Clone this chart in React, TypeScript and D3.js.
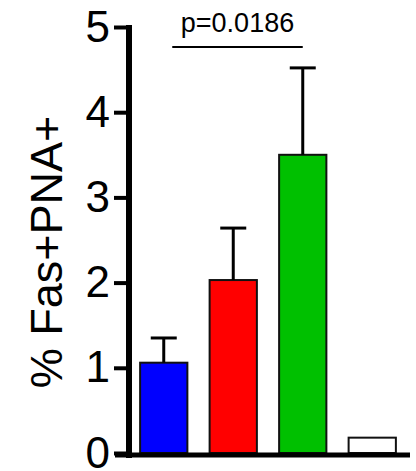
import React, { useEffect, useRef } from 'react';
import * as d3 from 'd3';

// Values
const groups = ['A', 'B', 'C', 'D'];
const means = [1.06, 2.03, 3.5, 0.18];
const sems = [0.29, 0.61, 1.02, 0];
const colors = ['#0000ff', '#ff0000', '#00c000', '#ffffff'];
const yTicks = [0, 1, 2, 3, 4, 5];
const pLabel = 'p=0.0186';
const pPair = ['A', 'C'];

const App = () => {
  const ref = useRef<SVGSVGElement>(null);

  useEffect(() => {
    const svg = d3.select(ref.current);
    svg.selectAll('*').remove();

    const font = 'Arial, "Liberation Sans", sans-serif';

    // Scales
    const x = d3.scaleBand<string>()
      .domain(groups)
      .range([129, 407])
      .paddingInner(0.32)
      .paddingOuter(0.16);

    const y = d3.scaleLinear()
      .domain([0, 5])
      .range([453, 27]);

    // Bars
    svg.append('g')
      .selectAll('rect')
      .data(groups)
      .enter()
      .append('rect')
        .attr('x', d => x(d)!)
        .attr('y', (d, i) => y(means[i]))
        .attr('width', x.bandwidth())
        .attr('height', (d, i) => y(0) - y(means[i]))
        .attr('fill', (d, i) => colors[i])
        .attr('stroke', '#111')
        .attr('stroke-width', 2);

    // Error bars (upper only)
    const err = svg.append('g')
      .attr('stroke', '#000')
      .attr('stroke-width', 3);
    groups.forEach((g, i) => {
      if (!sems[i]) return;
      const cx = x(g)! + x.bandwidth() / 2;
      const top = y(means[i] + sems[i]);
      err.append('line')
        .attr('x1', cx).attr('x2', cx)
        .attr('y1', y(means[i])).attr('y2', top);
      err.append('line')
        .attr('x1', cx - 13).attr('x2', cx + 13)
        .attr('y1', top).attr('y2', top);
    });

    // Y axis
    const axis = svg.append('g')
      .attr('transform', 'translate(129,0)')
      .call(d3.axisLeft(y).tickValues(yTicks).tickSize(15).tickPadding(4).tickFormat(d3.format('d')));
    axis.select('.domain').remove();
    axis.selectAll('.tick line')
      .attr('stroke', '#000')
      .attr('stroke-width', 4);
    axis.selectAll('.tick text')
      .attr('font-family', font)
      .attr('font-size', 44)
      .attr('fill', '#000');
    svg.append('line')
      .attr('x1', 129).attr('x2', 129)
      .attr('y1', y(5) - 2).attr('y2', y(0) + 5)
      .attr('stroke', '#000')
      .attr('stroke-width', 6);

    // X baseline
    svg.append('line')
      .attr('x1', 115).attr('x2', 410)
      .attr('y1', y(0) + 2).attr('y2', y(0) + 2)
      .attr('stroke', '#000')
      .attr('stroke-width', 5);

    // Y axis title
    svg.append('text')
      .attr('transform', 'translate(62,252) rotate(-90)')
      .attr('text-anchor', 'middle')
      .attr('font-family', font)
      .attr('font-size', 45)
      .attr('fill', '#000')
      .text('% Fas+PNA+');

    // Significance bracket
    const px1 = x(pPair[0])! + x.bandwidth() * 0.68;
    const px2 = x(pPair[1])! + x.bandwidth() * 0.5;
    svg.append('line')
      .attr('x1', px1).attr('x2', px2)
      .attr('y1', 47).attr('y2', 47)
      .attr('stroke', '#000')
      .attr('stroke-width', 2);
    svg.append('text')
      .attr('x', (px1 + px2) / 2)
      .attr('y', 32)
      .attr('text-anchor', 'middle')
      .attr('font-family', font)
      .attr('font-size', 27)
      .attr('fill', '#000')
      .text(pLabel);
  }, []);

  return (
    <svg
      ref={ref}
      width={416}
      height={471}
      style={{ position: 'absolute', left: 0, top: 0, background: '#fff' }}
    />
  );
};

export default App;
